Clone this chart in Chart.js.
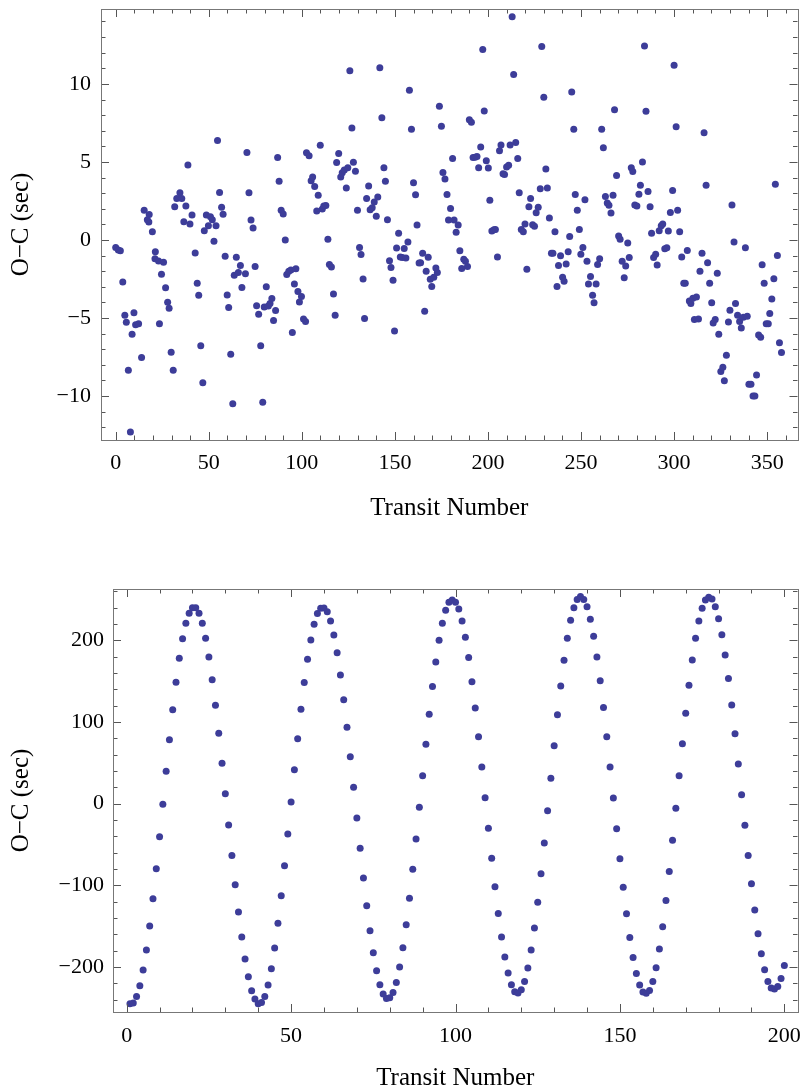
<!DOCTYPE html>
<html>
<head>
<meta charset="utf-8">
<script src="https://cdn.jsdelivr.net/npm/chart.js@4.4.0/dist/chart.umd.min.js"></script>
<style>
  body { margin: 0; background: #fff; width: 801px; height: 1092px; position: relative; overflow: hidden; }
  canvas { position: absolute; left: 0; }
</style>
</head>
<body>
<canvas id="ttvNoisy" width="801" height="545" style="top:0"></canvas>
<canvas id="ttvSine" width="801" height="547" style="top:545px"></canvas>
<script>
// ============================================================
// O-C transit timing plots (two panels)
// ============================================================

// ── Top panel: noisy O-C residuals ──
const topTransit = [
  0, 1.4, 2.5, 3.8, 4.9, 5.7, 6.8, 7.9, 8.8, 9.8, 10.7, 12.3, 13.9, 15.3, 17.0, 17.8, 18.0, 19.7, 21.1, 21.3,
  23.0, 23.5, 24.6, 25.7, 26.8, 27.9, 28.7, 29.8, 30.9, 31.7, 32.8, 34.5, 35.5, 36.6, 37.7, 38.8, 39.9, 41.0, 42.7, 43.8,
  44.6, 45.7, 46.8, 47.6, 48.7, 49.8, 50.9, 51.9, 52.8, 53.9, 54.7, 55.8, 56.9, 57.7, 58.8, 59.9, 60.7, 61.8, 62.9, 63.7,
  64.8, 65.9, 67.0, 67.8, 69.7, 70.5, 71.6, 72.7, 73.8, 74.9, 75.7, 76.8, 77.9, 79.0, 79.8, 80.9, 82.0, 82.9, 83.9, 84.8,
  85.9, 87.0, 87.8, 88.9, 90.0, 91.1, 91.9, 93.0, 94.1, 94.9, 96.0, 96.8, 97.9, 98.7, 99.8, 100.9, 102.0, 102.5, 103.9, 105.0,
  105.8, 106.9, 108.0, 108.8, 109.9, 111.0, 111.8, 112.9, 114.0, 114.8, 115.9, 117.0, 117.9, 118.7, 119.8, 120.9, 121.7, 122.8, 123.9, 124.7,
  125.8, 126.9, 127.7, 128.8, 129.9, 131.0, 131.8, 132.9, 133.7, 134.8, 135.9, 136.7, 137.8, 138.9, 140.0, 140.8, 141.9, 143.0, 144.1, 144.9,
  146.0, 147.1, 147.9, 149.0, 149.8, 150.9, 152.0, 152.9, 154.0, 155.0, 155.9, 157.0, 157.8, 158.9, 160.0, 161.1, 161.9, 163.0, 163.8, 164.9,
  166.0, 166.8, 167.9, 169.0, 169.8, 170.9, 172.0, 172.8, 173.9, 175.0, 175.8, 176.9, 178.0, 178.8, 179.9, 181.0, 181.8, 182.9, 184.0, 184.9,
  185.9, 187.0, 187.9, 189.0, 190.0, 191.1, 192.0, 193.1, 194.1, 195.0, 196.1, 197.2, 198.0, 199.1, 200.2, 201.0, 202.1, 203.2, 204.0, 205.1,
  206.2, 207.0, 208.1, 208.9, 210.0, 211.1, 211.9, 213.0, 213.8, 214.9, 216.0, 216.8, 217.9, 219.0, 219.9, 220.9, 222.0, 222.9, 224.0, 225.0,
  225.9, 227.0, 228.1, 228.9, 230.0, 231.1, 231.9, 233.0, 234.1, 234.9, 236.0, 237.1, 237.9, 239.0, 240.1, 240.9, 242.0, 243.1, 243.9, 245.0,
  246.1, 246.9, 248.0, 249.1, 249.9, 251.0, 252.1, 253.2, 254.0, 255.1, 256.2, 257.0, 258.1, 258.9, 260.0, 261.1, 262.0, 263.1, 264.1, 265.0,
  266.1, 267.2, 268.0, 269.1, 270.2, 271.0, 272.1, 273.2, 274.0, 275.1, 275.9, 277.0, 277.8, 278.9, 280.0, 281.1, 281.9, 283.0, 284.1, 284.9,
  286.0, 287.1, 287.9, 289.0, 290.1, 290.9, 292.0, 293.1, 293.9, 295.0, 296.1, 296.9, 298.0, 299.2, 300.0, 301.1, 301.9, 303.0, 304.1, 305.2,
  306.0, 307.1, 308.2, 309.0, 310.1, 310.9, 312.0, 313.1, 313.9, 315.0, 316.1, 317.2, 318.0, 319.1, 320.2, 321.0, 322.1, 323.2, 324.0, 325.1,
  326.2, 327.0, 328.1, 329.2, 330.0, 331.1, 332.2, 333.0, 334.1, 335.2, 336.1, 337.2, 338.3, 339.3, 340.2, 341.3, 342.4, 343.4, 344.3, 345.4,
  346.5, 347.3, 348.4, 349.5, 350.6, 351.4, 352.5, 353.6, 354.4, 355.5, 356.6, 357.7
];
const topOC = [
  -0.49, -0.64, -0.69, -2.7, -4.83, -5.28, -8.35, -12.3, -6.04, -4.67, -5.43, -5.37, -7.54, 1.91, 1.3, 1.15, 1.63, 0.52, -1.2, -0.76,
  -1.35, -5.37, -2.2, -1.43, -3.07, -4.0, -4.37, -7.2, -8.35, 2.13, 2.65, 3.02, 2.65, 1.17, 2.17, 4.8, 1.02, 1.6, -0.83, -2.78,
  -3.54, -6.78, -9.15, 0.59, 1.6, 0.91, 1.48, 1.3, -0.09, 0.91, 6.37, 3.04, 2.09, 1.65, -1.04, -3.52, -4.33, -7.33, -10.5, -2.26,
  -1.11, -2.09, -1.63, -3.04, -2.17, 5.61, 3.02, 1.28, 0.76, -1.7, -4.22, -4.76, -6.78, -10.4, -4.3, -3.0, -4.24, -4.07, -3.76, -5.17,
  -4.52, 5.28, 3.76, 1.91, 1.67, 0.0, -2.22, -2.0, -1.93, -5.93, -2.83, -1.85, -3.3, -3.98, -3.63, -5.07, -5.22, 5.59, 5.39, 3.8,
  4.04, 3.43, 1.85, 2.87, 6.07, 1.98, 2.17, 2.2, 0.04, -1.57, -1.74, -3.46, -4.83, 4.96, 5.54, 4.04, 4.3, 4.48, 3.33, 4.63,
  10.85, 7.17, 4.98, 4.41, 1.91, -0.48, -0.93, -2.5, -5.04, 2.65, 3.46, 1.93, 2.07, 2.43, 1.52, 2.76, 11.04, 7.83, 4.63, 3.76,
  1.3, -1.33, -1.76, -2.59, -5.83, -0.52, 0.43, -1.09, -1.13, -0.54, -1.15, -0.13, 9.59, 7.09, 3.67, 2.89, 0.96, -1.48, -1.46, -0.85,
  -4.57, -2.0, -1.11, -2.52, -2.98, -2.39, -1.8, -2.09, 8.57, 7.28, 4.33, 3.91, 2.91, 1.28, 2.02, 5.22, 1.28, 0.5, 0.96, -0.7,
  -1.83, -1.24, -1.37, -1.7, 7.7, 7.54, 5.28, 5.3, 5.35, 4.63, 5.96, 12.2, 8.26, 5.07, 4.61, 2.54, 0.57, 0.65, 0.67, -1.09,
  5.72, 6.09, 4.24, 4.2, 4.67, 4.78, 6.09, 14.3, 10.6, 6.24, 5.22, 3.02, 0.67, 0.52, 1.02, -1.87, 2.13, 2.65, 0.98, 0.87,
  1.74, 2.09, 3.28, 12.4, 9.15, 4.54, 3.33, 1.41, -0.85, -0.85, 0.52, -2.98, -1.63, -1.02, -2.39, -2.65, -1.54, -0.76, 0.22, 9.48,
  7.09, 2.91, 1.91, 0.67, -0.91, -0.48, 2.57, -1.37, -2.83, -2.35, -3.54, -4.02, -2.83, -1.57, -1.2, 7.09, 5.91, 2.78, 2.37, 2.22,
  1.72, 2.87, 8.35, 4.13, 0.26, 0.04, -1.37, -2.43, -1.67, -0.2, -1.13, 4.63, 4.39, 2.24, 2.17, 2.93, 3.5, 5.0, 12.43, 8.24,
  3.11, 2.13, 0.43, -1.13, -0.91, -1.61, 0.59, 0.91, 1.02, -0.57, -0.5, 0.57, 1.76, 3.17, 11.2, 7.26, 1.91, 0.52, -1.09, -2.78,
  -2.78, -0.67, -3.91, -4.07, -3.74, -5.09, -3.65, -5.07, -2.0, -0.85, 6.87, 3.5, -1.46, -2.78, -4.02, -5.33, -5.09, -2.13, -6.04, -8.43,
  -8.15, -9.02, -7.39, -5.26, -4.5, 2.24, -0.13, -4.07, -4.83, -5.22, -5.65, -4.96, -0.5, -4.89, -9.24, -9.24, -10.0, -10.0, -8.65, -6.09,
  -6.24, -1.59, -2.78, -5.37, -5.37, -4.72, -3.78, -2.48, 3.57, -1.0, -6.59, -7.22
];

// ── Bottom panel: sinusoidal O-C, transits 1..200 ──
const sineOC = [
  -244.9, -244.1, -235.9, -222.9, -203.7, -179.2, -149.8, -116.3, -79.6, -40.4,
  -0.8, 39.6, 78.4, 115.1, 148.6, 178.0, 202.0, 220.8, 233.1, 240.0,
  240.0, 233.1, 220.8, 202.4, 179.6, 151.8, 120.4, 86.1, 49.4, 12.2,
  -26.1, -63.3, -99.2, -132.7, -163.3, -190.2, -211.8, -229.0, -239.2, -244.9,
  -243.3, -235.9, -222.0, -202.0, -176.7, -146.5, -112.7, -75.9, -37.1, 2.0,
  41.6, 79.6, 115.5, 148.2, 176.7, 200.4, 219.6, 232.7, 239.2, 239.6,
  235.1, 223.7, 206.5, 184.9, 157.6, 127.3, 93.5, 57.6, 20.0, -17.6,
  -54.7, -91.0, -124.9, -155.5, -182.4, -204.5, -221.6, -233.1, -238.4, -237.6,
  -231.0, -218.8, -200.0, -176.3, -148.2, -115.9, -80.4, -43.3, -4.5, 34.3,
  72.7, 109.4, 143.3, 173.5, 200.0, 220.8, 236.7, 246.5, 249.4, 246.5,
  238.4, 223.7, 203.7, 178.8, 149.4, 117.1, 82.0, 44.9, 7.3, -30.2,
  -66.9, -101.6, -134.3, -163.3, -187.8, -207.3, -221.6, -230.2, -231.8, -227.8,
  -217.6, -201.2, -179.2, -152.2, -120.8, -85.7, -48.2, -8.6, 31.0, 71.0,
  109.0, 144.1, 175.5, 202.4, 224.5, 240.0, 249.8, 253.5, 249.8, 241.2,
  225.7, 204.9, 179.6, 150.6, 117.6, 82.0, 44.9, 6.9, -30.6, -67.3,
  -102.4, -134.7, -163.7, -188.2, -207.8, -222.0, -230.6, -232.2, -228.6, -217.6,
  -200.8, -178.0, -150.6, -118.4, -82.9, -44.9, -5.7, 34.3, 73.5, 110.6,
  144.9, 175.9, 202.4, 223.7, 239.2, 249.4, 252.7, 250.6, 241.2, 226.5,
  206.9, 182.0, 153.1, 120.8, 85.7, 48.6, 11.0, -26.5, -63.3, -98.0,
  -130.2, -159.2, -183.7, -203.3, -217.6, -225.7, -226.9, -223.7, -213.9, -198.0
];
const sineFirstTransit = 1;

const POINT_COLOR = '#3d3d99';
const SERIF = "'Liberation Serif', 'DejaVu Serif', serif";

function fmtMinus(v) { return v < 0 ? '\u2212' + Math.abs(v) : String(v); }

// frame on all four sides, ticks pointing inward (Mathematica style)
const frameTicks = {
    id: 'frameTicks',
    afterDatasetsDraw(chart, args, o) {
        const { ctx, chartArea: a, scales: { x, y } } = chart;
        ctx.save();
        ctx.strokeStyle = '#555'; ctx.lineWidth = 1;
        ctx.beginPath();
        for (let i = Math.ceil(x.min / o.xStep); i * o.xStep <= x.max; i++) {
            const v = i * o.xStep;
            const px = Math.round(x.getPixelForValue(v)) + 0.5;
            const len = v % o.xMajor === 0 ? 8 : 4.5;
            ctx.moveTo(px, a.bottom); ctx.lineTo(px, a.bottom - len);
            ctx.moveTo(px, a.top); ctx.lineTo(px, a.top + len);
        }
        for (let i = Math.ceil(y.min / o.yStep); i * o.yStep <= y.max; i++) {
            const v = i * o.yStep;
            const py = Math.round(y.getPixelForValue(v)) + 0.5;
            const len = v % o.yMajor === 0 ? 8 : 4.5;
            ctx.moveTo(a.left, py); ctx.lineTo(a.left + len, py);
            ctx.moveTo(a.right, py); ctx.lineTo(a.right - len, py);
        }
        ctx.stroke();
        ctx.strokeStyle = '#777';
        ctx.strokeRect(Math.round(a.left) + 0.5, Math.round(a.top) + 0.5, Math.round(a.right - a.left), Math.round(a.bottom - a.top));
        ctx.restore();
    }
};

function makePanel(canvasId, points, c) {
    return new Chart(document.getElementById(canvasId), {
        type: 'scatter',
        data: { datasets: [{ data: points, backgroundColor: POINT_COLOR, borderWidth: 0, pointRadius: 3.5, pointHoverRadius: 3.5 }] },
        options: {
            responsive: false, animation: false, devicePixelRatio: 1,
            layout: { padding: { top: c.padTop, right: c.padRight, left: 0, bottom: 0 } },
            plugins: { legend: { display: false }, tooltip: { enabled: false }, frameTicks: c.ticks },
            scales: {
                x: {
                    type: 'linear', min: c.xMin, max: c.xMax,
                    grid: { display: false, drawTicks: false }, border: { display: false },
                    ticks: { stepSize: c.xLabelStep, includeBounds: false, padding: c.xLabelPad, color: '#000', font: { family: SERIF, size: 22 }, callback: fmtMinus, maxRotation: 0 },
                    title: { display: true, text: 'Transit Number', color: '#000', font: { family: SERIF, size: 25, lineHeight: 1 }, padding: { top: 0, bottom: c.xTitlePad } },
                    afterFit(s) { s.height = c.xAxisH; s.paddingLeft = 0; s.paddingRight = 0; }
                },
                y: {
                    type: 'linear', min: c.yMin, max: c.yMax,
                    grid: { display: false, drawTicks: false }, border: { display: false },
                    ticks: { stepSize: c.yLabelStep, includeBounds: false, padding: c.yLabelPad, color: '#000', font: { family: SERIF, size: 22 }, callback: fmtMinus },
                    title: { display: true, text: 'O\u2212C (sec)', color: '#000', font: { family: SERIF, size: 25, lineHeight: 1 }, padding: { top: c.yTitlePad, bottom: 0 } },
                    afterFit(s) { s.width = c.yAxisW; s.paddingTop = 0; s.paddingBottom = 0; }
                }
            }
        },
        plugins: [frameTicks]
    });
}

makePanel('ttvNoisy', topTransit.map((t, i) => ({ x: t, y: topOC[i] })), {
    padTop: 9, padRight: 1, yAxisW: 101, xAxisH: 105,
    xMin: -7.9, xMax: 366.3, yMin: -12.82, yMax: 14.8,
    xLabelStep: 50, yLabelStep: 5, xLabelPad: 10, yLabelPad: 10,
    xTitlePad: 24, yTitlePad: 9,
    ticks: { xStep: 10, xMajor: 50, yStep: 1, yMajor: 5 }
});

makePanel('ttvSine', sineOC.map((v, i) => ({ x: sineFirstTransit + i, y: v })), {
    padTop: 44, padRight: 3, yAxisW: 113, xAxisH: 80,
    xMin: -4.16, xMax: 204.0, yMin: -255, yMax: 262.8,
    xLabelStep: 50, yLabelStep: 100, xLabelPad: 11, yLabelPad: 9,
    xTitlePad: 1, yTitlePad: 9,
    ticks: { xStep: 10, xMajor: 50, yStep: 20, yMajor: 100 }
});
</script>
</body>
</html>
